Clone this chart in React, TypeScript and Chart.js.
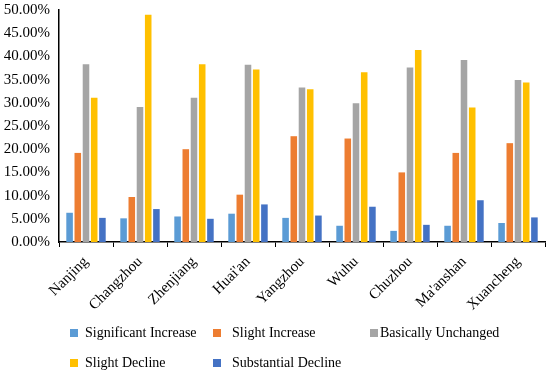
import React, { useEffect, useRef } from "react";
import { Chart, registerables } from "chart.js";

Chart.register(...registerables);

const categories = ["Nanjing", "Changzhou", "Zhenjiang", "Huai'an", "Yangzhou", "Wuhu", "Chuzhou", "Ma'anshan", "Xuancheng"];
const significantIncrease = [6.3, 5.1, 5.5, 6.1, 5.2, 3.5, 2.4, 3.5, 4.1];
const slightIncrease = [19.2, 9.7, 20.0, 10.2, 22.8, 22.3, 15.0, 19.2, 21.3];
const basicallyUnchanged = [38.3, 29.1, 31.1, 38.2, 33.3, 29.9, 37.6, 39.2, 34.9];
const slightDecline = [31.1, 49.0, 38.3, 37.2, 32.9, 36.6, 41.4, 29.0, 34.4];
const substantialDecline = [5.2, 7.1, 5.0, 8.1, 5.7, 7.6, 3.7, 9.0, 5.3];

const seriesNames = ["Significant Increase", "Slight Increase", "Basically Unchanged", "Slight Decline", "Substantial Decline"];
const colors = ["#5B9BD5", "#ED7D31", "#A5A5A5", "#FFC000", "#4472C4"];
const seriesData = [significantIncrease, slightIncrease, basicallyUnchanged, slightDecline, substantialDecline];

const FONT = "'Liberation Serif', 'Times New Roman', serif";

const legendItems = [
  { box: 70, text: 85, y: 333 },
  { box: 213, text: 232, y: 333 },
  { box: 370, text: 380, y: 333 },
  { box: 70, text: 85, y: 363 },
  { box: 213, text: 232, y: 363 },
];

export default function App() {
  const ref = useRef<HTMLCanvasElement>(null);
  useEffect(() => {
    const chart = new Chart(ref.current!, {
      type: "bar",
      data: {
        labels: categories,
        datasets: seriesNames.map((n, i) => ({
          label: n,
          data: seriesData[i],
          backgroundColor: colors[i],
          categoryPercentage: 0.76,
          barPercentage: 0.8,
        })),
      },
      options: {
        animation: false,
        responsive: false,
        maintainAspectRatio: false,
        layout: { padding: { top: -3, right: 5, left: 0, bottom: 0 } },
        plugins: { legend: { display: false }, tooltip: { enabled: false } },
        scales: {
          x: {
            grid: { display: true, drawOnChartArea: false, drawTicks: true, tickLength: 5, color: "#000", offset: true },
            border: { display: true, color: "#000", width: 1.5 },
            ticks: { color: "#000", font: { family: FONT, size: 15 }, maxRotation: 45, minRotation: 45, padding: 6 },
            afterFit: (s: any) => { s.height = 131; },
          },
          y: {
            min: 0,
            max: 50,
            grid: { display: false },
            border: { display: true, color: "#000", width: 1.5 },
            ticks: {
              stepSize: 5,
              color: "#000",
              font: { family: FONT, size: 15 },
              padding: 1,
              callback: (v: any) => Number(v).toFixed(2) + "%",
            },
            afterFit: (s: any) => { s.width = 59; },
          },
        },
      },
    });
    return () => chart.destroy();
  }, []);
  return (
    <div style={{ position: "fixed", left: 0, top: 0, width: 550, height: 373, background: "#fff", fontFamily: FONT }}>
      <canvas ref={ref} width={550} height={373} style={{ position: "absolute", left: 0, top: 0 }} />
      {legendItems.map((it, i) => (
        <React.Fragment key={i}>
          <div style={{ position: "absolute", left: it.box, top: it.y - 4, width: 8, height: 8, background: colors[i] }} />
          <div style={{ position: "absolute", left: it.text, top: it.y - 9, fontSize: 14, lineHeight: "18px", color: "#000", whiteSpace: "nowrap" }}>
            {seriesNames[i]}
          </div>
        </React.Fragment>
      ))}
    </div>
  );
}
